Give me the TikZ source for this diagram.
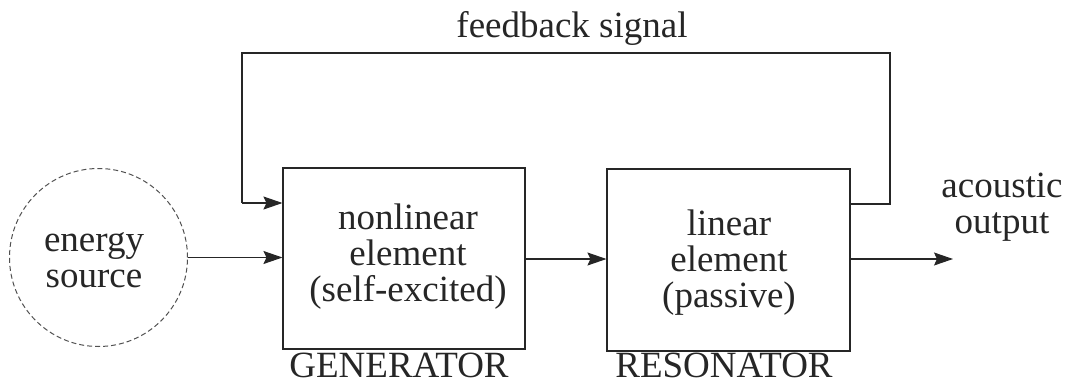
\documentclass[tikz,border=0pt]{standalone}
\usepackage{fontspec}
\setmainfont{Liberation Serif}
\usetikzlibrary{arrows.meta,calc}
\definecolor{ink}{HTML}{262626}
\begin{document}
\begin{tikzpicture}[x=1pt,y=-1pt,
  every node/.style={font=\fontsize{37}{36}\selectfont, text=ink},
  blockbox/.style={draw=ink, line width=1.1pt, rectangle, inner sep=0pt},
  srccircle/.style={draw=ink!80, dashed, dash pattern=on 5pt off 3pt, line width=1pt, circle, inner sep=0pt, minimum size=178pt},
  txt/.style={align=center, inner sep=0pt},
  conn/.style={draw=ink, line width=1.1pt, -{Stealth[length=19pt,width=13pt,inset=3pt]}},
  wire/.style={draw=ink, line width=1.1pt}]
\useasboundingbox (0,0) rectangle (1069,391);
\node[srccircle] (src) at (98.5,257.5) {};
\node[txt] (srctext) at (94,260) {energy\\source};
\node[blockbox, minimum width=242pt, minimum height=181pt] (gen) at (404,258.5) {};
\node[txt] (gentext) at (408,256.8) {nonlinear\\element\\(self-excited)};
\node[blockbox, minimum width=243pt, minimum height=182pt] (res) at (728.5,260) {};
\node[txt] (restext) at (729,263) {linear\\element\\(passive)};
\node[txt, anchor=base] (genlab) at (399,377) {GENERATOR};
\node[txt, anchor=base] (reslab) at (724,377) {RESONATOR};
\node[txt, anchor=base] (fb) at (572,37) {feedback signal};
\node[txt] (out) at (1002,207) {acoustic\\output};
\coordinate (outend) at (953,259);
\draw[conn] (src.east) -- (src.east -| gen.west);
\draw[conn] (gen.east |- 0,259) -- (res.west |- 0,259);
\draw[conn] (res.east |- outend) -- (outend);
\coordinate (f1) at (890,204);
\coordinate (f2) at (890,53);
\coordinate (f3) at (242,53);
\coordinate (f4) at (242,203);
\draw[wire] (res.east |- f1) -- (f1) -- (f2) -- (f3) -- (f4);
\draw[conn] (f4) -- (gen.west |- f4);
\end{tikzpicture}
\end{document}
